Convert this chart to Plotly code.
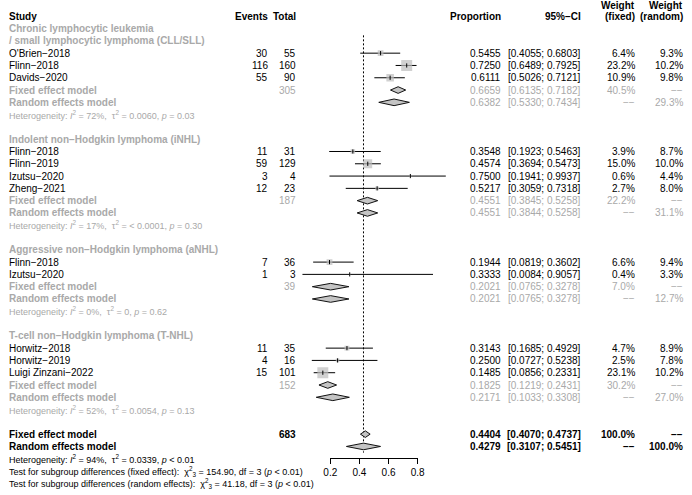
import plotly.graph_objects as go

# ---------------- data ----------------
group_labels = [["Chronic lymphocytic leukemia", "/ small lymphocytic lymphoma (CLL/SLL)"],
                ["Indolent non−Hodgkin lymphoma (iNHL)"],
                ["Aggressive non−Hodgkin lymphoma (aNHL)"],
                ["T-cell non−Hodgkin lymphoma (T-NHL)"]]

studies = ["O'Brien−2018", "Flinn−2018", "Davids−2020",
           "Flinn−2018", "Flinn−2019", "Izutsu−2020", "Zheng−2021",
           "Flinn−2018", "Izutsu−2020",
           "Horwitz−2018", "Horwitz−2019", "Luigi Zinzani−2022"]
study_group = [0, 0, 0, 1, 1, 1, 1, 2, 2, 3, 3, 3]
events = [30, 116, 55, 11, 59, 3, 12, 7, 1, 11, 4, 15]
totals = [55, 160, 90, 31, 129, 4, 23, 36, 3, 35, 16, 101]
prop = [0.5455, 0.7250, 0.6111, 0.3548, 0.4574, 0.7500, 0.5217, 0.1944, 0.3333, 0.3143, 0.2500, 0.1485]
lower = [0.4055, 0.6489, 0.5026, 0.1923, 0.3694, 0.1941, 0.3059, 0.0819, 0.0084, 0.1685, 0.0727, 0.0856]
upper = [0.6803, 0.7925, 0.7121, 0.5463, 0.5473, 0.9937, 0.7318, 0.3602, 0.9057, 0.4929, 0.5238, 0.2331]
w_fixed = [6.4, 23.2, 10.9, 3.9, 15.0, 0.6, 2.7, 6.6, 0.4, 4.7, 2.5, 23.1]
w_random = [9.3, 10.2, 9.8, 8.7, 10.0, 4.4, 8.0, 9.4, 3.3, 8.9, 7.8, 10.2]

group_total = [305, 187, 39, 152]
grp_fixed_est = [0.6659, 0.4551, 0.2021, 0.1825]
grp_fixed_lo = [0.6135, 0.3845, 0.0765, 0.1219]
grp_fixed_hi = [0.7182, 0.5258, 0.3278, 0.2431]
grp_fixed_w = [40.5, 22.2, 7.0, 30.2]
grp_random_est = [0.6382, 0.4551, 0.2021, 0.2171]
grp_random_lo = [0.5330, 0.3844, 0.0765, 0.1033]
grp_random_hi = [0.7434, 0.5258, 0.3278, 0.3308]
grp_random_w = [29.3, 31.1, 12.7, 27.0]
grp_I2 = ["72%", "17%", "0%", "52%"]
grp_tau2 = ["= 0.0060", "= < 0.0001", "= 0", "= 0.0054"]
grp_p = ["= 0.03", "= 0.30", "= 0.62", "= 0.13"]

overall_total = 683
overall_fixed = [0.4404, 0.4070, 0.4737]
overall_random = [0.4279, 0.3107, 0.5451]
overall_het = ["94%", "= 0.0339", "< 0.01"]
test_fixed = ["154.90", "3", "< 0.01"]
test_random = ["41.18", "3", "< 0.01"]

tick_vals = [0.2, 0.4, 0.6, 0.8]

# ---------------- layout geometry ----------------
W, H = 692, 495
ROW0, ROWH = 16.3, 12.29
X0, XU = 300.3, 148.5          # pixel of proportion 0, pixels per unit
AXIS_Y = 458
GRAY = "#a9a9a9"
FONT = "Liberation Sans, Arial, Helvetica, sans-serif"

col_events = 267 / W
col_total = 296 / W
col_prop = 505 / W
col_ci = 587 / W
col_wf = 642 / W
col_wr = 691 / W
col_study = 1.5 / W

annotations = []


def txt(x, row, s, anchor="right", color="black", bold=False, size=10):
    if bold:
        s = "<b>" + s + "</b>"
    annotations.append(dict(x=x, y=row, xref="paper", yref="y", text=s, showarrow=False,
                            xanchor=anchor, yanchor="middle", borderpad=0,
                            font=dict(family=FONT, size=size, color=color)))


def ci_str(lo, hi):
    return "[%.4f; %.4f]" % (lo, hi)


# header
txt(col_study, 0, "Study", "left", bold=True)
txt(col_events, 0, "Events", bold=True)
txt(col_total, 0, "Total", bold=True)
txt(col_prop, 0, "Proportion", bold=True)
txt(col_ci, 0, "95%−CI", bold=True)
txt(col_wf, -0.9, "Weight", bold=True)
txt(col_wf, 0, "(fixed)", bold=True)
txt(col_wr, -0.9, "Weight", bold=True)
txt(col_wr, 0, "(random)", bold=True)

ci_x, ci_y = [], []
sq_x, sq_y, sq_s = [], [], []
tick_x, tick_y = [], []
dia_x, dia_y = [], []
DH = 0.27


def diamond(est, lo, hi, row):
    dia_x.extend([lo, est, hi, est, lo, None])
    dia_y.extend([row, row - DH, row, row + DH, row, None])


row = 1
for g in range(len(group_labels)):
    for line in group_labels[g]:
        txt(col_study, row, line, "left", GRAY, bold=True)
        row += 1
    for i in range(len(studies)):
        if study_group[i] != g:
            continue
        txt(col_study, row, studies[i], "left")
        txt(col_events, row, str(events[i]))
        txt(col_total, row, str(totals[i]))
        txt(col_prop, row, "%.4f" % prop[i])
        txt(col_ci, row, ci_str(lower[i], upper[i]))
        txt(col_wf, row, "%.1f%%" % w_fixed[i])
        txt(col_wr, row, "%.1f%%" % w_random[i])
        ci_x.extend([lower[i], upper[i], None])
        ci_y.extend([row, row, None])
        sq_x.append(prop[i]); sq_y.append(row); sq_s.append(2.28 * w_fixed[i] ** 0.5)
        tick_x.append(prop[i]); tick_y.append(row)
        row += 1
    # fixed
    txt(col_study, row, "Fixed effect model", "left", GRAY, bold=True)
    txt(col_total, row, str(group_total[g]), color=GRAY)
    txt(col_prop, row, "%.4f" % grp_fixed_est[g], color=GRAY)
    txt(col_ci, row, ci_str(grp_fixed_lo[g], grp_fixed_hi[g]), color=GRAY)
    txt(col_wf, row, "%.1f%%" % grp_fixed_w[g], color=GRAY)
    txt(col_wr, row, "−−", color=GRAY)
    diamond(grp_fixed_est[g], grp_fixed_lo[g], grp_fixed_hi[g], row)
    row += 1
    # random
    txt(col_study, row, "Random effects model", "left", GRAY, bold=True)
    txt(col_prop, row, "%.4f" % grp_random_est[g], color=GRAY)
    txt(col_ci, row, ci_str(grp_random_lo[g], grp_random_hi[g]), color=GRAY)
    txt(col_wf, row, "−−", color=GRAY)
    txt(col_wr, row, "%.1f%%" % grp_random_w[g], color=GRAY)
    diamond(grp_random_est[g], grp_random_lo[g], grp_random_hi[g], row)
    row += 1
    txt(col_study, row, "Heterogeneity: <i>I</i><sup>2</sup> = %s,  τ<sup>2</sup> %s, <i>p</i> %s"
        % (grp_I2[g], grp_tau2[g], grp_p[g]), "left", GRAY, size=9)
    row += 2

line_top = 1.55
# overall
txt(col_study, row, "Fixed effect model", "left", bold=True)
txt(col_total, row, str(overall_total), bold=True)
txt(col_prop, row, "%.4f" % overall_fixed[0], bold=True)
txt(col_ci, row, ci_str(overall_fixed[1], overall_fixed[2]), bold=True)
txt(col_wf, row, "100.0%", bold=True)
txt(col_wr, row, "−−", bold=True)
diamond(overall_fixed[0], overall_fixed[1], overall_fixed[2], row)
row += 1
txt(col_study, row, "Random effects model", "left", bold=True)
txt(col_prop, row, "%.4f" % overall_random[0], bold=True)
txt(col_ci, row, ci_str(overall_random[1], overall_random[2]), bold=True)
txt(col_wf, row, "−−", bold=True)
txt(col_wr, row, "100.0%", bold=True)
diamond(overall_random[0], overall_random[1], overall_random[2], row)
line_bottom = row + 0.5
row += 1
txt(col_study, row, "Heterogeneity: <i>I</i><sup>2</sup> = %s,  τ<sup>2</sup> %s, <i>p</i> %s"
    % tuple(overall_het), "left", size=9)
row += 1
txt(col_study, row, "Test for subgroup differences (fixed effect):  χ<sup>2</sup><sub>3</sub> = %s, df = %s (<i>p</i> %s)"
    % tuple(test_fixed), "left", size=9)
row += 1
txt(col_study, row, "Test for subgroup differences (random effects):  χ<sup>2</sup><sub>3</sub> = %s, df = %s (<i>p</i> %s)"
    % tuple(test_random), "left", size=9)

fig = go.Figure()
# reference line at overall random effect
fig.add_trace(go.Scatter(x=[overall_random[0], overall_random[0]], y=[line_top, line_bottom],
                         mode="lines", line=dict(color="black", width=1, dash="2px,2px"),
                         hoverinfo="skip", showlegend=False))
fig.add_trace(go.Scatter(x=ci_x, y=ci_y, mode="lines", line=dict(color="black", width=1),
                         hoverinfo="skip", showlegend=False))
fig.add_trace(go.Scatter(x=sq_x, y=sq_y, mode="markers",
                         marker=dict(symbol="square", size=sq_s, color="#bebebe", line=dict(width=0)),
                         hoverinfo="skip", showlegend=False))
fig.add_trace(go.Scatter(x=tick_x, y=tick_y, mode="markers",
                         marker=dict(symbol="line-ns-open", size=3, color="black", line=dict(width=1, color="black")),
                         hoverinfo="skip", showlegend=False))
fig.add_trace(go.Scatter(x=dia_x, y=dia_y, mode="lines", fill="toself", fillcolor="#c4c4c4",
                         line=dict(color="#111111", width=1), hoverinfo="skip", showlegend=False))
# axis carrier
fig.add_trace(go.Scatter(x=tick_vals, y=[line_bottom] * len(tick_vals), xaxis="x2", mode="markers",
                         marker=dict(opacity=0), hoverinfo="skip", showlegend=False))

y_top = -ROW0 / ROWH
y_bot = (H - ROW0) / ROWH
fig.update_layout(
    width=W, height=H, margin=dict(l=0, r=0, t=0, b=0),
    paper_bgcolor="white", plot_bgcolor="rgba(0,0,0,0)",
    font=dict(family=FONT, size=10, color="black"),
    xaxis=dict(domain=[X0 / W, (X0 + XU) / W], range=[0, 1], visible=False, fixedrange=True),
    xaxis2=dict(domain=[(X0 + tick_vals[0] * XU) / W, (X0 + tick_vals[-1] * XU) / W],
                range=[tick_vals[0], tick_vals[-1]], anchor="free", position=1 - AXIS_Y / H,
                showline=True, linecolor="black", linewidth=1, ticks="outside", ticklen=5,
                tickwidth=1, tickcolor="black", tickvals=tick_vals, tickformat=".1f",
                showgrid=False, zeroline=False, tickfont=dict(family=FONT, size=10, color="black")),
    yaxis=dict(domain=[0, 1], range=[y_bot, y_top], visible=False, fixedrange=True),
    annotations=annotations,
    showlegend=False,
)
fig.write_html("out.html", config={"displayModeBar": False},
               post_script="document.body.style.margin='0px';document.body.style.overflow='hidden';")
